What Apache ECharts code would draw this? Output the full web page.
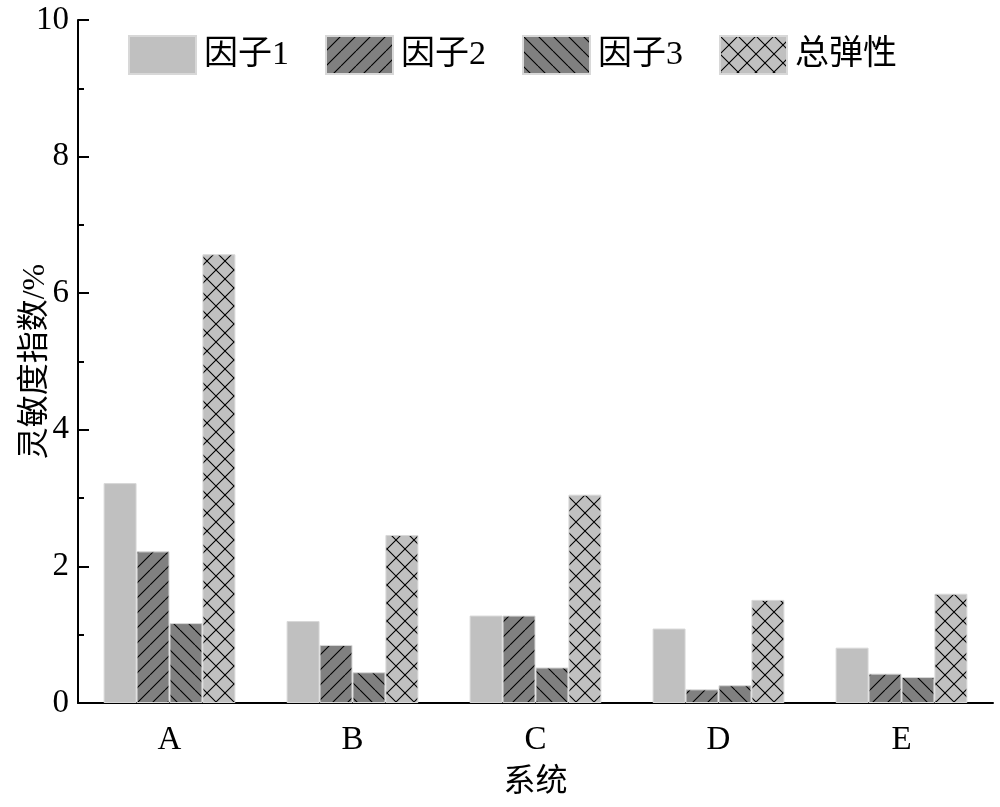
<!DOCTYPE html>
<html><head><meta charset="utf-8">
<script src="https://cdn.jsdelivr.net/npm/echarts@6/dist/echarts.min.js"></script>
<style>html,body{margin:0;padding:0;background:#fff}#c{width:1000px;height:807px}</style>
</head><body><div id="c"></div>
<script>
const categories = ['A','B','C','D','E'];
const seriesNames = ['因子1','因子2','因子3','总弹性'];
const factor1 = [3.22, 1.20, 1.28, 1.09, 0.81];
const factor2 = [2.22, 0.85, 1.28, 0.20, 0.43];
const factor3 = [1.17, 0.45, 0.52, 0.26, 0.38];
const total   = [6.57, 2.46, 3.05, 1.51, 1.60];
const yTicks = [0, 2, 4, 6, 8, 10];

function hatch(bg, dirs, size){
  const c = document.createElement('canvas');
  c.width = size; c.height = size;
  const g = c.getContext('2d');
  g.fillStyle = bg; g.fillRect(0,0,size,size);
  g.strokeStyle = '#000'; g.lineWidth = 1.1;
  dirs.forEach(d=>{
    g.beginPath();
    if(d==='/'){
      for(let k=-1;k<=1;k++){ g.moveTo(k*size, size); g.lineTo(k*size+size, 0); }
    } else {
      for(let k=-1;k<=1;k++){ g.moveTo(k*size, 0); g.lineTo(k*size+size, size); }
    }
    g.stroke();
  });
  return {image:c, repeat:'repeat'};
}
const fills = [
  '#c0c0c0',
  hatch('#808080',['/'],15),
  hatch('#808080',['\\'],15),
  hatch('#c0c0c0',['/','\\'],18)
];
const dataSets = [factor1, factor2, factor3, total];
const font = '"Liberation Serif", "Times New Roman", "Noto Sans CJK SC", serif';

const chart = echarts.init(document.getElementById('c'), null, {renderer:'canvas'});
chart.setOption({
  animation:false,
  backgroundColor:'#fff',
  textStyle:{fontFamily:font},
  grid:{left:78, right:7, top:20, bottom:104, containLabel:false, outerBoundsMode:'none'},
  legend:{
    left:128, top:35, padding:0, itemWidth:67, itemHeight:38, itemGap:36, icon:'rect',
    textStyle:{fontSize:34, color:'#000', fontFamily:font, padding:[0,0,0,3]},
    data: seriesNames
  },
  xAxis:[{
    type:'category', data:categories,
    axisLine:{lineStyle:{color:'#000', width:2}},
    axisTick:{alignWithLabel:true, length:12, lineStyle:{color:'#000', width:2}},
    axisLabel:{fontSize:33, color:'#000', margin:21, fontFamily:font},
    name:'系统', nameLocation:'middle', nameGap:64, nameMoveOverlap:false,
    nameTextStyle:{fontSize:32, color:'#000', fontFamily:font}
  },{
    type:'category', data:categories, position:'bottom',
    axisLine:{show:false},
    axisTick:{length:6, lineStyle:{color:'#000', width:2}},
    axisLabel:{show:false}
  }],
  yAxis:{
    type:'value', min:yTicks[0], max:yTicks[yTicks.length-1], interval:2,
    axisLine:{show:true, lineStyle:{color:'#000', width:2}},
    axisTick:{show:true, inside:true, length:11, lineStyle:{color:'#000', width:2}},
    minorTick:{show:true, splitNumber:2, length:6, lineStyle:{color:'#000', width:2}},
    splitLine:{show:false},
    axisLabel:{fontSize:33, color:'#000', margin:9, fontFamily:font},
    name:'灵敏度指数/%', nameLocation:'middle', nameGap:26, nameMoveOverlap:false,
    nameTextStyle:{fontSize:32, color:'#000', fontFamily:font}
  },
  series: dataSets.map((d,i)=>({
    name:seriesNames[i], type:'bar', data:d, xAxisIndex:0,
    barGap:'0%', barCategoryGap:'28%',
    itemStyle:{color:fills[i], borderColor:'#d8d8d8', borderWidth:1}
  }))
});
</script></body></html>
